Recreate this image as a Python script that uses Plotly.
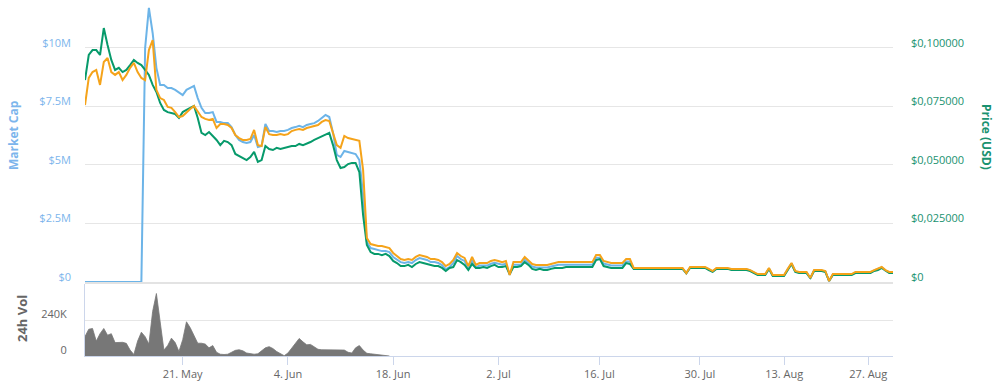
import numpy as np
import pandas as pd
import plotly.graph_objects as go

# ---- sample timestamps (Highstock-style ordinal axis: every sample gets equal width) ----
seg_a = pd.date_range("2018-05-08 00:00", periods=110, freq="12h")
seg_b = pd.date_range("2018-07-02 00:00", periods=54, freq="750min")
seg_c = pd.date_range(seg_b[-1] + pd.Timedelta(minutes=900), periods=52, freq="900min")
timestamps = seg_a.append(seg_b).append(seg_c)

# ---- tick labels ----
tick_dates = ["2018-05-21", "2018-06-04", "2018-06-18", "2018-07-02",
              "2018-07-16", "2018-07-30", "2018-08-13", "2018-08-27"]
tick_labels = ["21. May", "4. Jun", "18. Jun", "2. Jul",
               "16. Jul", "30. Jul", "13. Aug", "27. Aug"]

# ---- Market cap (millions USD) ----
market_cap_musd = [
    0, 0, 0, 0, 0, 0, 0, 0, 0, 0,
    0, 0, 0, 0, 0, 0, 10.00, 11.71, 10.64, 9.15,
    8.42, 8.42, 8.29, 8.29, 8.21, 8.08, 7.99, 8.21, 8.29, 8.38,
    7.86, 7.44, 7.22, 7.22, 7.26, 6.84, 6.84, 6.79, 6.79, 6.62,
    6.28, 6.07, 5.98, 5.94, 5.98, 6.28, 5.77, 5.81, 6.75, 6.45,
    6.45, 6.41, 6.45, 6.45, 6.50, 6.58, 6.62, 6.67, 6.62, 6.71,
    6.75, 6.79, 6.88, 7.01, 7.14, 7.05, 6.37, 5.43, 5.34, 5.60,
    5.56, 5.51, 5.47, 5.21, 3.72, 1.71, 1.45, 1.41, 1.37, 1.32,
    1.32, 1.28, 1.07, 0.94, 0.85, 0.81, 0.85, 0.81, 0.94, 1.02,
    0.98, 0.94, 0.85, 0.85, 0.81, 0.72, 0.55, 0.64, 0.81, 1.11,
    0.98, 0.90, 0.55, 0.94, 0.62, 0.70, 0.70, 0.70, 0.78, 0.82,
    0.78, 0.74, 0.78, 0.30, 0.74, 0.74, 0.74, 0.95, 0.82, 0.66,
    0.62, 0.62, 0.62, 0.62, 0.66, 0.70, 0.74, 0.74, 0.74, 0.74,
    0.74, 0.74, 0.74, 0.74, 0.74, 0.74, 1.04, 1.04, 0.79, 0.74,
    0.71, 0.71, 0.71, 0.71, 0.88, 0.88, 0.58, 0.58, 0.58, 0.58,
    0.58, 0.58, 0.58, 0.58, 0.58, 0.58, 0.58, 0.58, 0.58, 0.58,
    0.36, 0.62, 0.62, 0.62, 0.62, 0.62, 0.54, 0.45, 0.58, 0.58,
    0.58, 0.58, 0.54, 0.54, 0.54, 0.54, 0.54, 0.49, 0.41, 0.32,
    0.32, 0.32, 0.58, 0.28, 0.28, 0.28, 0.28, 0.54, 0.79, 0.45,
    0.41, 0.41, 0.41, 0.15, 0.49, 0.49, 0.49, 0.45, 0.03, 0.32,
    0.32, 0.32, 0.32, 0.32, 0.32, 0.41, 0.41, 0.41, 0.41, 0.41,
    0.49, 0.54, 0.62, 0.49, 0.41, 0.41,
]

# ---- Price USD (cents) ----
price_usd_cents = [
    8.63, 9.70, 9.91, 9.91, 9.70, 10.85, 10.13, 9.49, 9.06, 9.15,
    8.97, 9.06, 9.27, 9.49, 9.36, 9.27, 9.06, 8.85, 8.42, 8.12,
    7.65, 7.35, 7.26, 7.22, 7.18, 7.01, 7.26, 7.35, 7.44, 7.52,
    7.01, 6.37, 6.28, 6.41, 6.24, 6.07, 5.85, 6.03, 5.98, 5.85,
    5.47, 5.38, 5.30, 5.21, 5.34, 5.56, 5.13, 5.21, 5.81, 5.68,
    5.64, 5.73, 5.68, 5.73, 5.77, 5.81, 5.81, 5.90, 5.85, 5.90,
    5.98, 6.07, 6.15, 6.24, 6.32, 6.37, 5.85, 5.21, 4.87, 4.91,
    5.04, 5.09, 5.09, 4.70, 2.86, 1.58, 1.28, 1.20, 1.20, 1.15,
    1.20, 1.11, 0.90, 0.81, 0.68, 0.68, 0.73, 0.64, 0.77, 0.85,
    0.81, 0.77, 0.73, 0.68, 0.68, 0.60, 0.47, 0.60, 0.64, 0.94,
    0.85, 0.73, 0.51, 0.77, 0.60, 0.60, 0.64, 0.60, 0.68, 0.73,
    0.64, 0.64, 0.68, 0.34, 0.64, 0.64, 0.68, 0.85, 0.73, 0.56,
    0.51, 0.56, 0.51, 0.51, 0.56, 0.60, 0.60, 0.60, 0.64, 0.64,
    0.64, 0.64, 0.64, 0.64, 0.64, 0.64, 0.94, 0.98, 0.68, 0.64,
    0.60, 0.60, 0.60, 0.60, 0.81, 0.77, 0.56, 0.56, 0.56, 0.56,
    0.56, 0.56, 0.56, 0.56, 0.56, 0.56, 0.56, 0.56, 0.56, 0.56,
    0.38, 0.60, 0.60, 0.60, 0.60, 0.60, 0.51, 0.43, 0.56, 0.56,
    0.56, 0.56, 0.51, 0.51, 0.51, 0.51, 0.51, 0.47, 0.38, 0.30,
    0.30, 0.30, 0.56, 0.26, 0.26, 0.26, 0.26, 0.51, 0.77, 0.43,
    0.38, 0.38, 0.38, 0.17, 0.47, 0.47, 0.47, 0.43, 0.05, 0.30,
    0.30, 0.30, 0.30, 0.30, 0.30, 0.38, 0.38, 0.38, 0.38, 0.38,
    0.47, 0.51, 0.60, 0.47, 0.38, 0.38,
]

# ---- Price BTC (satoshi) ----
price_btc_sat = [
    756, 872, 897, 906, 842, 940, 957, 897, 885, 897,
    863, 885, 915, 936, 897, 872, 863, 991, 1034, 821,
    786, 778, 748, 744, 726, 705, 709, 726, 739, 752,
    726, 705, 697, 692, 697, 658, 675, 675, 671, 658,
    628, 615, 607, 607, 611, 650, 585, 581, 662, 632,
    628, 628, 632, 628, 632, 645, 650, 654, 650, 658,
    662, 667, 671, 684, 692, 688, 637, 585, 573, 624,
    615, 611, 607, 603, 479, 188, 162, 158, 154, 154,
    150, 145, 124, 111, 98, 94, 98, 94, 107, 115,
    111, 107, 98, 98, 94, 85, 68, 77, 94, 124,
    111, 103, 68, 107, 73, 81, 81, 81, 90, 94,
    90, 85, 90, 30, 85, 85, 85, 107, 94, 77,
    73, 73, 73, 73, 77, 81, 85, 85, 85, 85,
    85, 85, 85, 85, 85, 85, 115, 115, 90, 85,
    81, 81, 81, 81, 98, 98, 60, 60, 60, 60,
    60, 60, 60, 60, 60, 60, 60, 60, 60, 60,
    38, 64, 64, 64, 64, 64, 56, 47, 60, 60,
    60, 60, 56, 56, 56, 56, 56, 51, 43, 34,
    34, 34, 60, 30, 30, 30, 30, 56, 81, 47,
    43, 43, 43, 17, 51, 51, 51, 47, 4, 34,
    34, 34, 34, 34, 34, 43, 43, 43, 43, 43,
    51, 56, 64, 51, 43, 43,
]

# ---- 24h volume (thousands USD), only reported until mid June ----
volume_k = [
    131, 180, 185, 100, 150, 185, 140, 150, 90, 92,
    92, 85, 40, 10, 100, 160, 130, 80, 300, 420,
    220, 40, 70, 120, 90, 30, 110, 230, 190, 140,
    86, 86, 80, 55, 70, 25, 12, 10, 12, 25,
    38, 42, 35, 20, 15, 12, 15, 35, 55, 63,
    50, 30, 15, 2, 20, 55, 90, 118, 95, 75,
    78, 60, 45, 42, 42, 40, 40, 40, 40, 40,
    25, 20, 55, 70, 40, 18, 15, 12, 6, 5,
    4, 0,
]

N = len(timestamps)
idx = np.arange(N)
hours = ((timestamps - timestamps[0]) / pd.Timedelta(hours=1)).to_numpy()
tick_hours = ((pd.to_datetime(tick_dates) - timestamps[0]) / pd.Timedelta(hours=1)).to_numpy()
tickvals = np.interp(tick_hours, hours, idx)

mcap = np.array(market_cap_musd) * 1e6
price_usd = np.array(price_usd_cents) / 100.0
volume = [v * 1000 for v in volume_k] + [None] * (N - len(volume_k))

BLUE = "#6cb4e8"
GREEN = "#079a6b"
ORANGE = "#f5a31a"
FONT = "Open Sans"

fig = go.Figure()
fig.add_trace(go.Scatter(x=idx, y=mcap, mode="lines", xaxis="x", yaxis="y",
                         line=dict(color=BLUE, width=2), name="Market Cap"))
fig.add_trace(go.Scatter(x=idx, y=price_usd, mode="lines", xaxis="x", yaxis="y2",
                         line=dict(color=GREEN, width=2), name="Price (USD)"))
fig.add_trace(go.Scatter(x=idx, y=price_btc_sat, mode="lines", xaxis="x", yaxis="y3",
                         line=dict(color=ORANGE, width=2), name="Price (BTC)"))
fig.add_trace(go.Scatter(x=idx, y=volume, mode="lines", xaxis="x2", yaxis="y4",
                         fill="tozeroy", fillcolor="#777777",
                         line=dict(color="#777777", width=0.8), name="24h Vol"))

top_frac = (356 - 282) / 356
vol_frac = 72 / 356

fig.update_layout(
    width=1002, height=384,
    margin=dict(l=85, r=109, t=0, b=28),
    paper_bgcolor="white", plot_bgcolor="white",
    showlegend=False,
    font=dict(family=FONT, size=11, color="#666666"),
    xaxis=dict(domain=[0, 1], anchor="y", range=[0, N - 1], showticklabels=False,
               showgrid=False, zeroline=False, showline=True,
               linecolor="#e3e3e3", linewidth=2, ticks=""),
    xaxis2=dict(domain=[0, 1], anchor="y4", range=[0, N - 1],
                tickvals=tickvals, ticktext=tick_labels,
                ticks="outside", ticklen=8, tickcolor="#ccd6eb", tickwidth=1,
                showline=True, linecolor="#ccd6eb", linewidth=1,
                showgrid=False, zeroline=False,
                tickfont=dict(color="#666666", size=11, family=FONT)),
    yaxis=dict(domain=[top_frac, 1], anchor="x", range=[0, 12.05e6],
               tickvals=[0, 2.5e6, 5e6, 7.5e6, 10e6],
               ticktext=["$0", "$2.5M", "$5M", "$7.5M", "$10M"],
               gridcolor="#e6e6e6", gridwidth=1, zeroline=False, showline=False,
               tickfont=dict(color="#7cb5ec", size=11, family=FONT),
               ticklabelstandoff=13, ticklabelshift=-5),
    yaxis2=dict(overlaying="y", side="right", anchor="x", range=[0, 0.1205],
                tickvals=[0, 0.025, 0.05, 0.075, 0.1],
                ticktext=["$0", "$0,025000", "$0,050000", "$0,075000", "$0,100000"],
                showgrid=False, zeroline=False, showline=False,
                tickfont=dict(color="#1a9270", size=11, family=FONT),
                ticklabelstandoff=17, ticklabelshift=-5),
    yaxis3=dict(overlaying="y", anchor="x", range=[0, 1205], visible=False),
    yaxis4=dict(domain=[0, vol_frac], anchor="x2", range=[0, 484000],
                tickvals=[0, 240000], ticktext=["0", "240K"],
                gridcolor="#e6e6e6", zeroline=False,
                showline=True, linecolor="#ccd6eb", linewidth=1,
                tickfont=dict(color="#666666", size=11, family=FONT),
                ticklabelstandoff=15, ticklabelshift=-6),
    annotations=[
        dict(text="<b>Market Cap</b>", xref="paper", yref="paper",
             x=(13 - 85) / 808, y=(356 - 135) / 356, textangle=-90, showarrow=False,
             font=dict(color="#7cb5ec", size=12, family=FONT),
             xanchor="center", yanchor="middle"),
        dict(text="<b>24h Vol</b>", xref="paper", yref="paper",
             x=(22 - 85) / 808, y=(356 - 319) / 356, textangle=-90, showarrow=False,
             font=dict(color="#666666", size=13, family=FONT),
             xanchor="center", yanchor="middle"),
        dict(text="<b>Price (USD)</b>", xref="paper", yref="paper",
             x=(987 - 85) / 808, y=(356 - 137) / 356, textangle=90, showarrow=False,
             font=dict(color="#1a9270", size=12, family=FONT),
             xanchor="center", yanchor="middle"),
    ],
)

fig.write_html("out.html", config={"displayModeBar": False},
               post_script="document.body.style.margin='0px';")
